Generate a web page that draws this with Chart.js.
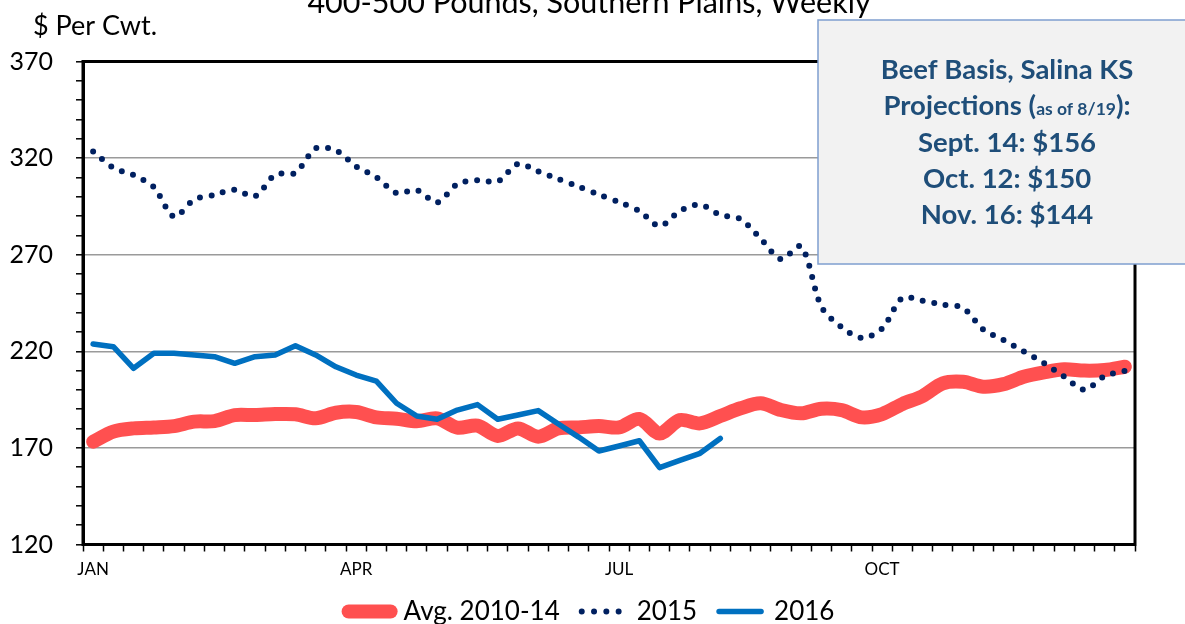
<!DOCTYPE html>
<html>
<head>
<meta charset="utf-8">
<script src="https://cdn.jsdelivr.net/npm/chart.js@4.4.1/dist/chart.umd.min.js"></script>
<style>
  html, body { margin: 0; padding: 0; background: #fff; }
  #wrap { width: 1185px; height: 624px; }
</style>
</head>
<body>
<div id="wrap"><canvas id="chart" width="1185" height="624"></canvas></div>
<script>
// weekly categories, only quarter starts are labelled
const monthLabels = ["JAN", "APR", "JUL", "OCT"];
const monthWeeks = [0, 13, 26, 39];
const weekCount = 52;

// $ per cwt, 400-500 lb steers, Southern Plains
const avg2010_14 = [
  173.2, 178.4, 180.1, 180.6, 181.3, 183.6, 183.9, 187.0, 187.0, 187.5,
  187.4, 185.3, 188.2, 188.6, 185.8, 185.1, 183.8, 185.3, 180.5, 181.5,
  176.2, 180.1, 175.8, 180.1, 180.6, 181.3, 180.6, 185.0, 177.5, 184.4,
  182.7, 186.5, 190.5, 193.1, 189.6, 187.9, 190.3, 189.6, 185.8, 187.5,
  192.7, 196.8, 203.4, 204.2, 201.7, 203.0, 206.8, 209.1, 210.7, 210.0,
  210.3, 212.0
];
const y2015 = [
  323.4, 315.0, 311.2, 305.0, 289.7, 298.5, 301.0, 303.6, 300.2, 311.4,
  312.4, 325.0, 324.0, 315.7, 310.1, 301.9, 303.4, 297.0, 306.5, 308.6,
  307.9, 317.0, 313.1, 309.1, 305.2, 301.1, 297.2, 292.6, 284.8, 292.6,
  295.9, 290.6, 288.4, 278.3, 267.7, 274.3, 243.0, 232.4, 226.9, 231.8,
  247.6, 246.2, 244.2, 242.4, 231.3, 225.8, 219.9, 213.9, 206.9, 200.1,
  207.2, 209.8
];
const y2016 = [
  223.8, 222.4, 211.2, 219.0, 219.0, 218.1, 217.2, 213.8, 217.2, 218.1,
  222.9, 218.1, 212.0, 207.7, 204.6, 193.1, 186.5, 184.8, 189.6, 192.4,
  184.8, 187.0, 189.3, 182.4, 175.6, 168.4, 171.0, 173.7, 159.8, 163.5,
  167.2, 174.9
];

// y axis: minor tick every 10, labels / gridlines every 50
const yTickValues = [120, 130, 140, 150, 160, 170, 180, 190, 200, 210, 220, 230, 240,
  250, 260, 270, 280, 290, 300, 310, 320, 330, 340, 350, 360, 370];
const yLabelValues = [120, 170, 220, 270, 320, 370];
const yGridValues = [170, 220, 270, 320];

const chartTitle = "400-500 Pounds, Southern Plains, Weekly";
const yTitle = "$ Per Cwt.";
const noteLines = [
  [{t: "Beef Basis, Salina KS"}],
  [{t: "Projections ("}, {t: "as of 8/19", small: true}, {t: "):"}],
  [{t: "Sept. 14: $156"}],
  [{t: "Oct. 12: $150"}],
  [{t: "Nov. 16: $144"}]
];

const weekLabels = [];
for (let i = 0; i < weekCount; i++) {
  const k = monthWeeks.indexOf(i);
  weekLabels.push(k >= 0 ? monthLabels[k] : "");
}

const RED = "#ff5050", NAVY = "#002060", BLUE = "#0070c0";

const overlay = {
  id: "overlay",
  afterDraw(chart) {
    const {ctx, chartArea: a} = chart;
    ctx.save();
    // black frame round the plot
    ctx.strokeStyle = "#000";
    ctx.lineWidth = 3;
    ctx.strokeRect(a.left, a.top, a.right - a.left, a.bottom - a.top);

    ctx.fillStyle = "#000";
    ctx.textBaseline = "alphabetic";
    ctx.font = "30.5px Lato";
    ctx.textAlign = "center";
    ctx.fillText(chartTitle, 589, 13);
    ctx.font = "27px Lato";
    ctx.textAlign = "left";
    ctx.fillText(yTitle, 33, 35);

    // projections note
    ctx.fillStyle = "#f2f2f2";
    ctx.fillRect(818, 20, 380, 244);
    ctx.strokeStyle = "#7f9fcf";
    ctx.lineWidth = 1.5;
    ctx.strokeRect(818, 20, 380, 244);
    ctx.fillStyle = "#1f4e79";
    ctx.textAlign = "left";
    const big = "bold 27.5px Lato", small = "bold 17.5px Lato";
    noteLines.forEach((parts, i) => {
      let w = 0;
      parts.forEach(p => { ctx.font = p.small ? small : big; w += ctx.measureText(p.t).width; });
      let x = 1007 - w / 2;
      const y = 79 + i * 36.3;
      parts.forEach(p => {
        ctx.font = p.small ? small : big;
        ctx.fillText(p.t, x, y);
        x += ctx.measureText(p.t).width;
      });
    });
    ctx.restore();
  }
};

function legendItems() {
  return [
    {text: "Avg. 2010-14", strokeStyle: RED, fillStyle: RED, lineWidth: 14, lineCap: "round",
     lineDash: [], pointStyle: "line", datasetIndex: 0, hidden: false, fontColor: "#000"},
    {text: "2015", strokeStyle: NAVY, fillStyle: NAVY, lineWidth: 6, lineCap: "round",
     lineDash: [0, 12.3, 0, 12.3, 0, 12.3, 0, 80], pointStyle: "line", datasetIndex: 1, hidden: false, fontColor: "#000"},
    {text: "2016", strokeStyle: BLUE, fillStyle: BLUE, lineWidth: 5.5, lineCap: "round",
     lineDash: [], pointStyle: "line", datasetIndex: 2, hidden: false, fontColor: "#000"}
  ];
}

function draw() {
  new Chart(document.getElementById("chart"), {
    type: "line",
    data: {
      labels: weekLabels,
      datasets: [
        {label: "Avg. 2010-14", data: avg2010_14, borderColor: RED, borderWidth: 14,
         borderCapStyle: "round", borderJoinStyle: "round", tension: 0.3, pointRadius: 0, order: 3},
        {label: "2015", data: y2015, borderColor: NAVY, borderWidth: 6, borderDash: [0, 11.7],
         borderCapStyle: "round", tension: 0.3, pointRadius: 0, order: 2},
        {label: "2016", data: y2016, borderColor: BLUE, borderWidth: 5.5,
         borderCapStyle: "round", borderJoinStyle: "round", tension: 0, pointRadius: 0, order: 1}
      ]
    },
    options: {
      responsive: false,
      animation: false,
      devicePixelRatio: 1,
      layout: {padding: {top: 61.5, right: 2, bottom: -10.5, left: 0}},
      plugins: {
        title: {display: false},
        tooltip: {enabled: false},
        legend: {
          position: "bottom",
          labels: {
            usePointStyle: true,
            pointStyleWidth: 42,
            padding: 22,
            color: "#000",
            font: {family: "Lato", size: 26},
            generateLabels: legendItems
          }
        }
      },
      scales: {
        x: {
          offset: true,
          afterFit: s => { s.height = 32; },
          grid: {offset: true, drawOnChartArea: false, drawTicks: true, tickLength: 7,
                 tickColor: "#000", tickWidth: 1.5},
          border: {display: true, color: "#000", width: 3},
          ticks: {autoSkip: false, maxRotation: 0, minRotation: 0, padding: 8,
                  color: "#000", font: {family: "Lato", size: 17}}
        },
        y: {
          min: 120,
          max: 370,
          afterFit: s => { s.width = 83; },
          afterBuildTicks: s => { s.ticks = yTickValues.map(v => ({value: v})); },
          grid: {
            drawTicks: true, tickLength: 7, tickColor: "#000", tickWidth: 1.5,
            color: c => yGridValues.includes(c.tick.value) ? "#9a9a9a" : "rgba(0,0,0,0)",
            lineWidth: 1.6
          },
          border: {display: true, color: "#000", width: 3},
          ticks: {
            autoSkip: false,
            padding: 23, color: "#000", font: {family: "Lato", size: 25},
            callback: v => yLabelValues.includes(v) ? String(v) : ""
          }
        },
        // empty right-hand spacer so the legend centres like the original
        yRight: {
          position: "right",
          afterFit: s => { s.width = 48; },
          grid: {display: false},
          border: {display: false},
          ticks: {display: false}
        }
      }
    },
    plugins: [overlay]
  });
}

Promise.all([
  document.fonts.load("25px Lato"),
  document.fonts.load("bold 25px Lato")
]).then(draw, draw);
</script>
</body>
</html>
